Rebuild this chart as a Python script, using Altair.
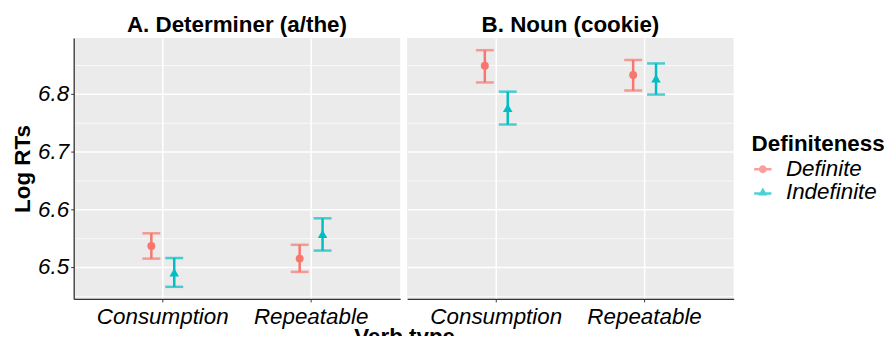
import altair as alt
import pandas as pd

panels = ["A. Determiner (a/the)"] * 4 + ["B. Noun (cookie)"] * 4
verbs = ["Consumption", "Consumption", "Repeatable", "Repeatable"] * 2
defs = ["Definite", "Indefinite"] * 4
means = [6.536, 6.490, 6.514, 6.557, 6.849, 6.776, 6.833, 6.827]
lows = [6.514, 6.465, 6.491, 6.528, 6.820, 6.747, 6.806, 6.799]
highs = [6.558, 6.515, 6.538, 6.584, 6.876, 6.804, 6.859, 6.853]

verb_order = ["Consumption", "Repeatable"]
def_order = ["Definite", "Indefinite"]
def_colors = ["#F8766D", "#00BFC4"]
y_ticks = [6.45, 6.5, 6.55, 6.6, 6.65, 6.7, 6.75, 6.8, 6.85]
y_domain = [6.444, 6.897]

# legend glyphs: point with a horizontal line through it (like ggplot's key)
legend_shapes = [
    "M -1,0 A 1,1 0 1,1 1,0 A 1,1 0 1,1 -1,0 Z M -2.2,-0.32 L 2.2,-0.32 L 2.2,0.32 L -2.2,0.32 Z",
    "M 0,-1.2 L 1.15,0.85 L -1.15,0.85 Z M -2.2,0.05 L 2.2,0.05 L 2.2,0.69 L -2.2,0.69 Z",
]

df = pd.DataFrame({"panel": panels, "verb": verbs, "def": defs,
                   "mean": means, "lo": lows, "hi": highs})

FONT = "Liberation Sans"
FS = 22.5
W, H = 328, 262
major = "abs(datum.value*10 - round(datum.value*10)) < 0.001"

legend = alt.Legend(orient="none", legendX=681, legendY=95,
                    titleFontSize=FS, titleFont=FONT, titleFontWeight="bold",
                    titleColor="black", labelFontSize=FS, labelFont=FONT,
                    labelFontStyle="italic", labelColor="black",
                    symbolSize=62, symbolStrokeWidth=0, rowPadding=0, titlePadding=3,
                    labelOffset=12)
color = alt.Color("def:N", title="Definiteness",
                  scale=alt.Scale(domain=def_order, range=def_colors), legend=legend)
shape = alt.Shape("def:N", title="Definiteness",
                  scale=alt.Scale(domain=def_order, range=legend_shapes), legend=legend)
xoff = alt.XOffset("def:N", scale=alt.Scale(domain=def_order, type="point",
                                            range=[63, 86], padding=0))


def panel(name, first):
    d = df[df["panel"] == name]
    base = alt.Chart(d)
    xaxis = alt.Axis(title="Verb type" if first else None, labelFontSize=FS,
                     labelFont=FONT, labelFontStyle="italic", labelColor="black",
                     labelAngle=0, labelPadding=4, grid=True, gridColor="white",
                     gridWidth=1.5, tickColor="#333333", tickSize=3, tickWidth=1,
                     domainColor="#333333", domainWidth=1.3,
                     titleFontSize=FS, titleFont=FONT, titleFontWeight="bold",
                     titleColor="black", titleX=332, titleAlign="center", titlePadding=-3)
    x = alt.X("verb:N", sort=verb_order,
              scale=alt.Scale(domain=verb_order, paddingInner=0, paddingOuter=0.1007),
              axis=xaxis)
    yaxis = alt.Axis(values=y_ticks, title="Log RTs" if first else None,
                     labelExpr=("(" + major + ") ? format(datum.value, '.1f') : ''"),
                     labels=first, labelFontSize=FS, labelFont=FONT,
                     labelFontStyle="italic", labelColor="black", labelPadding=2,
                     grid=True, gridColor="white",
                     gridWidth={"condition": {"test": major, "value": 1.5}, "value": 0.7},
                     ticks=first, tickColor="#333333", tickSize=3, tickWidth=1,
                     tickOpacity={"condition": {"test": major, "value": 1}, "value": 0},
                     domain=first, domainColor="#333333", domainWidth=1.3,
                     titleFontSize=FS, titleFont=FONT, titleFontWeight="bold",
                     titleColor="black", titlePadding=3)
    yscale = alt.Scale(domain=y_domain, nice=False, zero=False)
    rule = base.mark_rule(strokeWidth=2.5).encode(
        x=x, xOffset=xoff,
        y=alt.Y("lo:Q", scale=yscale, axis=yaxis), y2="hi:Q", color=color)
    cap_lo = base.mark_tick(size=18, thickness=2.5, orient="horizontal").encode(
        x=x, xOffset=xoff, y=alt.Y("lo:Q", scale=yscale, axis=yaxis), color=color)
    cap_hi = base.mark_tick(size=18, thickness=2.5, orient="horizontal").encode(
        x=x, xOffset=xoff, y=alt.Y("hi:Q", scale=yscale, axis=yaxis), color=color)
    pts_def = base.transform_filter(alt.datum["def"] == "Definite").mark_point(
        filled=True, size=64, opacity=1, shape="circle").encode(
        x=x, xOffset=xoff, y=alt.Y("mean:Q", scale=yscale, axis=yaxis), color=color)
    pts_ind = base.transform_filter(alt.datum["def"] == "Indefinite").mark_point(
        filled=True, size=92, opacity=1, shape="triangle-up").encode(
        x=x, xOffset=xoff, y=alt.Y("mean:Q", scale=yscale, axis=yaxis), color=color)
    layers = [rule, cap_lo, cap_hi, pts_def, pts_ind]
    if not first:
        key = base.transform_filter("false").mark_point(filled=True, opacity=1).encode(
            x=x, xOffset=xoff, y=alt.Y("mean:Q", scale=yscale, axis=yaxis),
            color=color, shape=shape)
        layers.append(key)
    return alt.layer(*layers).properties(
        width=W, height=H,
        title=alt.TitleParams(name, fontSize=FS, font=FONT, fontWeight="bold",
                              color="black", anchor="middle", offset=2))


chart = alt.hconcat(panel(panels[0], True), panel(panels[4], False),
                    spacing=7, bounds="flush").configure_view(
    fill="#EBEBEB", stroke=None
).properties(
    padding={"left": 3, "top": 4.5, "right": 0, "bottom": -12.5}
)

chart.save("out.html", embed_options={"renderer": "svg", "actions": False})
